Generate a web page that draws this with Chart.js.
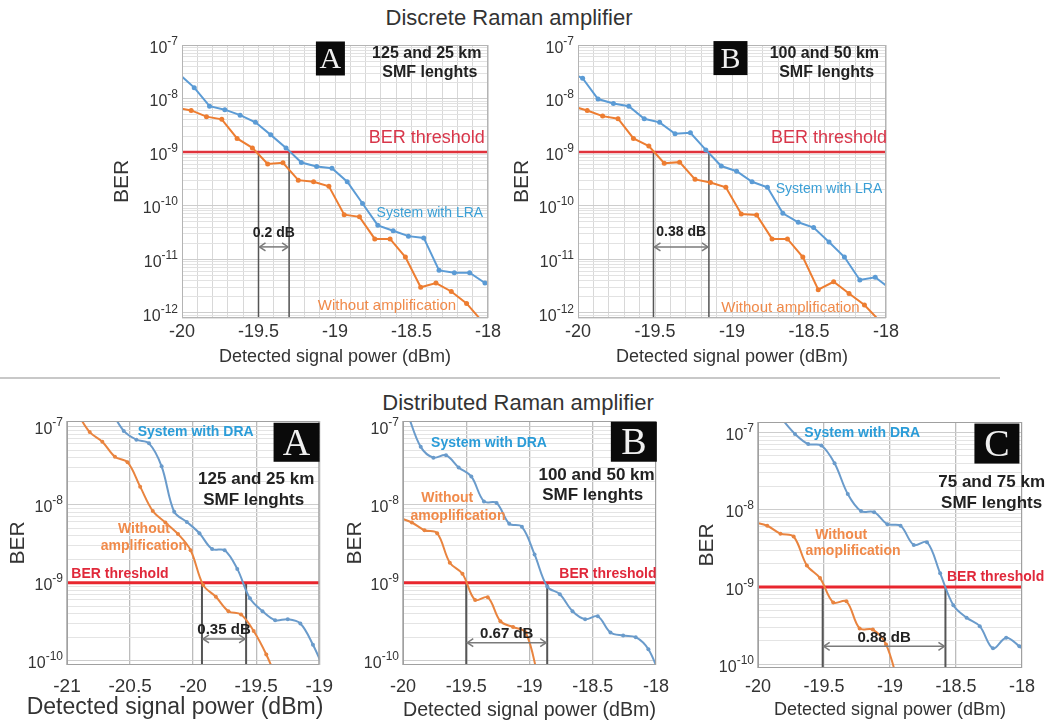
<!DOCTYPE html>
<html>
<head>
<meta charset="utf-8">
<script src="https://cdn.jsdelivr.net/npm/chart.js@4.4.1/dist/chart.umd.min.js"></script>
<style>
  body { margin: 0; background: #fff; }
  #fig { position: relative; width: 1048px; height: 724px; overflow: hidden;
         font-family: 'Liberation Sans', Arial, sans-serif; color: #333; }
  .section { position: absolute; left: 0; text-align: center; font-size: 22px; line-height: 26px; }
  #rule { position: absolute; left: 0; top: 377px; width: 1000px; height: 2px; background: #c8c8c8; }
  canvas { position: absolute; }
</style>
</head>
<body>
<div id="fig">
  <div class="section" style="top:5px; width:1018px;">Discrete Raman amplifier</div>
  <div id="rule"></div>
  <div class="section" style="top:390px; width:1036px;">Distributed Raman amplifier</div>
  <canvas id="dA"></canvas>
  <canvas id="dB"></canvas>
  <canvas id="rA"></canvas>
  <canvas id="rB"></canvas>
  <canvas id="rC"></canvas>
</div>
<script>
// ---- data ----
const berThreshold = 1e-9;

// Discrete Raman amplifier, A: 125 and 25 km
const dA_lraX = [-20.02,-19.92,-19.82,-19.72,-19.62,-19.52,-19.42,-19.32,-19.22,-19.12,-19.02,-18.92,-18.82,-18.72,-18.62,-18.52,-18.42,-18.32,-18.22,-18.12,-18.02];
const dA_lraBer = [2.9e-8,1.6e-8,7.2e-9,6.2e-9,4.9e-9,3.6e-9,2.1e-9,1.2e-9,6.4e-10,5.4e-10,5.0e-10,2.8e-10,1.1e-10,4.3e-11,3.4e-11,2.7e-11,2.5e-11,6.2e-12,5.6e-12,5.6e-12,3.6e-12];
const dA_noX = [-20.04,-19.94,-19.84,-19.74,-19.64,-19.54,-19.44,-19.34,-19.24,-19.14,-19.04,-18.94,-18.84,-18.74,-18.64,-18.54,-18.44,-18.34,-18.24,-18.14,-18.04];
const dA_noBer = [6.8e-9,6.0e-9,4.6e-9,4.1e-9,1.8e-9,1.2e-9,6.0e-10,6.3e-10,3.0e-10,2.8e-10,2.3e-10,6.8e-11,6.2e-11,2.4e-11,2.4e-11,1.1e-11,3.0e-12,3.6e-12,2.5e-12,1.5e-12,7e-13];
const dA_cross = [-19.5, -19.3];

// Discrete Raman amplifier, B: 100 and 50 km
const dB_lraX = [-20.07,-19.97,-19.87,-19.77,-19.67,-19.57,-19.47,-19.37,-19.27,-19.17,-19.07,-18.97,-18.87,-18.77,-18.67,-18.57,-18.47,-18.37,-18.27,-18.17,-18.07,-17.97];
const dB_lraBer = [3.2e-8,2.4e-8,9.8e-9,8.1e-9,7.2e-9,4.2e-9,3.6e-9,2.2e-9,2.3e-9,1.1e-9,5.5e-10,4.4e-10,2.8e-10,2.2e-10,7.2e-11,4.9e-11,3.9e-11,2.1e-11,1.1e-11,4.1e-12,4.6e-12,2.8e-12];
const dB_noX = [-20.04,-19.94,-19.84,-19.74,-19.64,-19.54,-19.44,-19.34,-19.24,-19.14,-19.04,-18.94,-18.84,-18.74,-18.64,-18.54,-18.44,-18.34,-18.24,-18.14,-18.04];
const dB_noBer = [7.2e-9,6.0e-9,4.7e-9,4.2e-9,1.8e-9,1.3e-9,6.2e-10,6.5e-10,3.1e-10,2.7e-10,2.2e-10,7.0e-11,6.7e-11,2.4e-11,2.4e-11,1.1e-11,2.7e-12,3.8e-12,2.3e-12,1.4e-12,7e-13];
const dB_cross = [-19.51, -19.15];

// Distributed Raman amplifier, A: 125 and 25 km
const rA_draX = [-20.65,-20.55,-20.45,-20.35,-20.25,-20.15,-20.05,-19.95,-19.85,-19.75,-19.65,-19.55,-19.45,-19.35,-19.25,-19.15,-19.05,-18.95];
const rA_draBer = [1.6e-7,8.8e-8,6.8e-8,6.1e-8,3.1e-8,8.1e-9,6.0e-9,4.3e-9,2.7e-9,2.6e-9,1.5e-9,6.3e-10,4.3e-10,3.3e-10,3.4e-10,3.0e-10,1.6e-10,7e-11];
const rA_noX = [-20.92,-20.82,-20.72,-20.62,-20.52,-20.42,-20.32,-20.22,-20.12,-20.02,-19.92,-19.82,-19.72,-19.62,-19.52,-19.42,-19.32];
const rA_noBer = [1.5e-7,8.5e-8,6.4e-8,4.1e-8,3.5e-8,1.7e-8,8.3e-9,5.9e-9,4.2e-9,2.6e-9,9.3e-10,6.6e-10,4.3e-10,3.9e-10,2.4e-10,1.2e-10,5e-11];
const rA_cross = [-19.93, -19.58];

// Distributed Raman amplifier, B: 100 and 50 km
const rB_draX = [-19.96,-19.86,-19.76,-19.66,-19.56,-19.46,-19.36,-19.26,-19.16,-19.06,-18.96,-18.86,-18.76,-18.66,-18.56,-18.46,-18.36,-18.26,-18.16,-18.06,-17.96];
const rB_draBer = [1.4e-7,5.5e-8,4.0e-8,4.3e-8,3.0e-8,2.3e-8,1.1e-8,1.05e-8,5.7e-9,5.2e-9,2.3e-9,8.9e-10,7.1e-10,4.3e-10,3.4e-10,3.7e-10,2.3e-10,2.1e-10,2.0e-10,1.4e-10,6e-11];
const rB_noX = [-20.03,-19.93,-19.83,-19.73,-19.63,-19.53,-19.43,-19.33,-19.23,-19.13,-19.03,-18.93];
const rB_noBer = [6.8e-9,5.9e-9,4.7e-9,4.3e-9,1.8e-9,1.3e-9,6.0e-10,6.5e-10,3.2e-10,2.7e-10,2.3e-10,6e-11];
const rB_cross = [-19.50, -18.86];

// Distributed Raman amplifier, C: 75 and 75 km
const rC_draX = [-19.82,-19.72,-19.62,-19.52,-19.42,-19.32,-19.22,-19.12,-19.02,-18.92,-18.82,-18.72,-18.62,-18.52,-18.42,-18.32,-18.22,-18.12,-18.02,-17.92];
const rC_draBer = [1.5e-7,9.6e-8,7.1e-8,6.8e-8,4.0e-8,1.6e-8,9.6e-9,9.3e-9,6.5e-9,6.2e-9,3.5e-9,3.8e-9,1.5e-9,5.8e-10,4.0e-10,3.1e-10,1.6e-10,2.2e-10,1.7e-10,1.2e-10];
const rC_noX = [-20.03,-19.93,-19.83,-19.73,-19.63,-19.53,-19.43,-19.33,-19.23,-19.13,-19.03,-18.93];
const rC_noBer = [6.9e-9,6.2e-9,4.9e-9,4.5e-9,1.9e-9,1.3e-9,6.3e-10,6.5e-10,2.9e-10,2.8e-10,1.8e-10,5e-11];
const rC_cross = [-19.51, -18.58];

const gapLabels = ['0.2 dB', '0.38 dB', '0.35 dB', '0.67 dB', '0.88 dB'];
const xTitle = 'Detected signal power (dBm)';
const yTitle = 'BER';

// ---- styling ----
const FONT = "'Liberation Sans', Arial, sans-serif";
const SERIF = "'Liberation Serif', 'DejaVu Serif', serif";
const BLUE_T = '#5b9bd5', ORANGE_T = '#ed7d31';
const BLUE_B = '#6a9bcb', ORANGE_B = '#e9843f';
const TXT_BLUE = '#3a9fd6', TXT_ORANGE = '#f08a4a', TXT_DARK = '#222';

function logGrid(min, max) {
  const out = [];
  for (let e = Math.floor(Math.log10(min)); e <= Math.ceil(Math.log10(max)); e++) {
    for (let k = 1; k <= 9; k++) {
      const v = k * Math.pow(10, e);
      if (v >= min * 0.999 && v <= max * 1.001) out.push({ value: v, decade: k === 1 });
    }
  }
  return out;
}
function linGrid(min, max, step) {
  const n = Math.round((max - min) / step), out = [];
  for (let i = 0; i <= n; i++) out.push({ value: +(min + i * step).toFixed(2) });
  return out;
}

const panels = [
  { id: 'dA', L: 182, T: 45, R: 488, B: 318, yw: 72, padTop: 12, padRight: 20, xh: 52,
    xMin: -20, xMax: -18, xStep: 0.1, yMin: 8e-13, yMax: 1e-7,
    tickFont: 18, tickPad: 3, titleFont: 18, yFont: 16, berFont: 21, top: true,
    series: [[dA_lraX, dA_lraBer, BLUE_T], [dA_noX, dA_noBer, ORANGE_T]], cross: dA_cross,
    gap: { t: gapLabels[0], ly: 3.1e-11, ay: 1.7e-11, f: 'bold 14px' },
    letter: { t: 'A', x: -19.03, y: 5.6e-8, w: 29, h: 34, size: 30 },
    notes: [
      { t: '125 and 25 km', x: -18.40, y: 7.0e-8, f: 'bold 16px', c: TXT_DARK },
      { t: 'SMF lenghts', x: -18.38, y: 3.0e-8, f: 'bold 16px', c: TXT_DARK },
      { t: 'BER threshold', x: -18.40, y: 1.8e-9, f: '18px', c: '#d8364a' },
      { t: 'System with LRA', x: -18.38, y: 7.4e-11, f: '14px', c: TXT_BLUE },
      { t: 'Without amplification', x: -18.66, y: 1.35e-12, f: '15px', c: TXT_ORANGE }
    ] },
  { id: 'dB', L: 578, T: 45, R: 886, B: 318, yw: 68, padTop: 12, padRight: 20, xh: 52,
    xMin: -20, xMax: -18, xStep: 0.1, yMin: 8e-13, yMax: 1e-7,
    tickFont: 18, tickPad: 3, titleFont: 18, yFont: 16, berFont: 21, top: true,
    series: [[dB_lraX, dB_lraBer, BLUE_T], [dB_noX, dB_noBer, ORANGE_T]], cross: dB_cross,
    gap: { t: gapLabels[1], ly: 3.2e-11, ay: 1.7e-11, f: 'bold 14px' },
    letter: { t: 'B', x: -19.01, y: 5.7e-8, w: 34, h: 34, size: 30 },
    notes: [
      { t: '100 and 50 km', x: -18.40, y: 7.0e-8, f: 'bold 16px', c: TXT_DARK },
      { t: 'SMF lenghts', x: -18.385, y: 3.0e-8, f: 'bold 16px', c: TXT_DARK },
      { t: 'BER threshold', x: -18.37, y: 1.8e-9, f: '18px', c: '#d8364a' },
      { t: 'System with LRA', x: -18.37, y: 2.0e-10, f: '14px', c: TXT_BLUE },
      { t: 'Without amplification', x: -18.62, y: 1.23e-12, f: '15px', c: TXT_ORANGE }
    ] },
  { id: 'rA', L: 67, T: 421, R: 328, B: 665, yw: 61, padTop: 12, padRight: 15, xh: 59,
    xMin: -21, xMax: -19, xStep: 0.5, yMin: 8.8e-11, yMax: 1.18e-7,
    tickFont: 19, tickPad: 10, titleFont: 23, yFont: 16, berFont: 21, top: false,
    ownTitle: { cx: 175, cy: 708 },
    series: [[rA_draX, rA_draBer, BLUE_B], [rA_noX, rA_noBer, ORANGE_B]], cross: rA_cross,
    gap: { t: gapLabels[2], ly: 2.5e-10, ay: 1.9e-10, f: 'bold 15px' },
    letter: { t: 'A', x: -19.18, y: 6.3e-8, w: 46, h: 39, size: 38 },
    notes: [
      { t: 'System with DRA', x: -19.98, y: 8.6e-8, f: 'bold 14px', c: '#2b9cd8' },
      { t: '125 and 25 km', x: -19.50, y: 2.1e-8, f: 'bold 17px', c: TXT_DARK },
      { t: 'SMF lenghts', x: -19.52, y: 1.15e-8, f: 'bold 17px', c: TXT_DARK },
      { t: 'Without', x: -20.39, y: 4.8e-9, f: 'bold 14px', c: TXT_ORANGE },
      { t: 'amplification', x: -20.39, y: 2.95e-9, f: 'bold 14px', c: TXT_ORANGE },
      { t: 'BER threshold', x: -20.58, y: 1.3e-9, f: 'bold 14px', c: '#e0283a' }
    ] },
  { id: 'rB', L: 403, T: 421, R: 665, B: 665, yw: 60, padTop: 12, padRight: 15, xh: 59,
    xMin: -20, xMax: -18, xStep: 0.5, yMin: 8.8e-11, yMax: 1.18e-7,
    tickFont: 18, tickPad: 11, titleFont: 20, yFont: 16, berFont: 21, top: false,
    series: [[rB_draX, rB_draBer, BLUE_B], [rB_noX, rB_noBer, ORANGE_B]], cross: rB_cross,
    gap: { t: gapLabels[3], ly: 2.2e-10, ay: 1.7e-10, f: 'bold 15px' },
    letter: { t: 'B', x: -18.175, y: 6.4e-8, w: 46, h: 40, size: 38 },
    notes: [
      { t: 'System with DRA', x: -19.32, y: 6.1e-8, f: 'bold 14px', c: '#2b9cd8' },
      { t: '100 and 50 km', x: -18.47, y: 2.4e-8, f: 'bold 17px', c: TXT_DARK },
      { t: 'SMF lenghts', x: -18.50, y: 1.3e-8, f: 'bold 17px', c: TXT_DARK },
      { t: 'Without', x: -19.65, y: 1.2e-8, f: 'bold 14px', c: TXT_ORANGE },
      { t: 'amoplification', x: -19.565, y: 7.2e-9, f: 'bold 14px', c: TXT_ORANGE },
      { t: 'BER threshold', x: -18.38, y: 1.3e-9, f: 'bold 14px', c: '#e0283a' }
    ] },
  { id: 'rC', L: 758, T: 422, R: 1022, B: 668, yw: 63, padTop: 12, padRight: 26, xh: 55,
    xMin: -20, xMax: -18, xStep: 0.5, yMin: 8.9e-11, yMax: 1.37e-7,
    tickFont: 18, tickPad: 8, titleFont: 18, yFont: 16, berFont: 21, top: false,
    series: [[rC_draX, rC_draBer, BLUE_B], [rC_noX, rC_noBer, ORANGE_B]], cross: rC_cross,
    gap: { t: gapLabels[4], ly: 2.2e-10, ay: 1.7e-10, f: 'bold 15px' },
    letter: { t: 'C', x: -18.19, y: 7.2e-8, w: 45, h: 40, size: 38 },
    notes: [
      { t: 'System with DRA', x: -19.21, y: 9.8e-8, f: 'bold 14px', c: '#2b9cd8' },
      { t: '75 and 75 km', x: -18.23, y: 2.3e-8, f: 'bold 17px', c: TXT_DARK },
      { t: 'SMF lenghts', x: -18.23, y: 1.2e-8, f: 'bold 17px', c: TXT_DARK },
      { t: 'Without', x: -19.37, y: 4.7e-9, f: 'bold 14px', c: TXT_ORANGE },
      { t: 'amoplification', x: -19.28, y: 2.9e-9, f: 'bold 14px', c: TXT_ORANGE },
      { t: 'BER threshold', x: -18.20, y: 1.35e-9, f: 'bold 14px', c: '#e0283a' }
    ] }
];

function arrowHead(ctx, x, y, dir) {
  ctx.beginPath();
  ctx.moveTo(x + dir * 6, y - 4);
  ctx.lineTo(x, y);
  ctx.lineTo(x + dir * 6, y + 4);
  ctx.stroke();
}

function notesPlugin(p) {
  return {
    id: 'notes_' + p.id,
    afterDraw(chart) {
      const { ctx, chartArea: a } = chart;
      const x = chart.scales.x, y = chart.scales.y;
      ctx.save();
      // plot frame
      ctx.strokeStyle = p.top ? '#b4b4b4' : '#a0a0a0';
      ctx.lineWidth = 1;
      ctx.strokeRect(a.left + 0.5, a.top + 0.5, a.right - a.left - 1, a.bottom - a.top - 1);

      // decade labels on the log axis: 10 with a raised exponent
      const base = p.yFont, exp = Math.round(p.yFont * 0.75);
      ctx.fillStyle = '#333';
      ctx.textAlign = 'left';
      ctx.textBaseline = 'alphabetic';
      y.ticks.forEach(t => {
        if (!t.decade) return;
        const py = y.getPixelForValue(t.value);
        const e = String(Math.round(Math.log10(t.value)));
        ctx.font = base + 'px ' + FONT;
        const wb = ctx.measureText('10').width;
        ctx.font = exp + 'px ' + FONT;
        const we = ctx.measureText(e).width;
        const right = a.left - 4;
        const bl = py + 2 + base * 0.36;
        ctx.font = base + 'px ' + FONT;
        ctx.fillText('10', right - we - wb, bl);
        ctx.font = exp + 'px ' + FONT;
        ctx.fillText(e, right - we, bl - base * 0.5);
      });

      // x axis title drawn by hand where it is wider than the plot
      if (p.ownTitle) {
        ctx.font = p.titleFont + 'px ' + FONT;
        ctx.textAlign = 'center';
        ctx.textBaseline = 'middle';
        ctx.fillText(xTitle, p.ownTitle.cx - (p.L - p.yw), p.ownTitle.cy - (p.T - p.padTop));
      }

      // gap arrow between the two crossing markers
      const x1 = x.getPixelForValue(p.cross[0]), x2 = x.getPixelForValue(p.cross[1]);
      const ay = y.getPixelForValue(p.gap.ay);
      ctx.strokeStyle = '#7a7a7a';
      ctx.lineWidth = 1.5;
      ctx.beginPath();
      ctx.moveTo(x1 + 1, ay);
      ctx.lineTo(x2 - 1, ay);
      ctx.stroke();
      arrowHead(ctx, x1 + 1, ay, 1);
      arrowHead(ctx, x2 - 1, ay, -1);
      ctx.textAlign = 'center';
      ctx.textBaseline = 'middle';
      ctx.fillStyle = '#222';
      ctx.font = p.gap.f + ' ' + FONT;
      ctx.fillText(p.gap.t, (x1 + x2) / 2, y.getPixelForValue(p.gap.ly));

      // text notes
      p.notes.forEach(n => {
        ctx.font = n.f + ' ' + FONT;
        ctx.fillStyle = n.c;
        ctx.fillText(n.t, x.getPixelForValue(n.x), y.getPixelForValue(n.y));
      });

      // panel letter box
      const L = p.letter;
      const cx = x.getPixelForValue(L.x), cy = y.getPixelForValue(L.y);
      ctx.fillStyle = '#0a0a0a';
      ctx.fillRect(cx - L.w / 2, cy - L.h / 2, L.w, L.h);
      ctx.fillStyle = '#f0f0f0';
      ctx.font = L.size + 'px ' + SERIF;
      ctx.textBaseline = 'alphabetic';
      ctx.fillText(L.t, cx, cy + L.size * 0.33);
      ctx.restore();
    }
  };
}

function makeChart(p) {
  const cv = document.getElementById(p.id);
  const W = p.yw + (p.R - p.L) + p.padRight;
  const H = p.padTop + (p.B - p.T) + p.xh;
  cv.width = W; cv.height = H;
  cv.style.width = W + 'px'; cv.style.height = H + 'px';
  cv.style.left = (p.L - p.yw) + 'px';
  cv.style.top = (p.T - p.padTop) + 'px';

  const datasets = p.series.map(([xs, ys, color]) => ({
    data: xs.map((v, i) => ({ x: v, y: ys[i] })),
    borderColor: color,
    backgroundColor: color,
    pointBackgroundColor: color,
    borderWidth: 2,
    pointRadius: p.top ? 2.5 : 2,
    pointBorderWidth: 0,
    tension: p.top ? 0 : 0.35,
    clip: 0
  }));
  datasets.push({
    data: [{ x: p.xMin, y: berThreshold }, { x: p.xMax, y: berThreshold }],
    borderColor: p.top ? '#e0323c' : '#e8262e',
    borderWidth: p.top ? 2.5 : 3,
    pointRadius: 0, clip: 0
  });
  p.cross.forEach(c => datasets.push({
    data: [{ x: c, y: berThreshold }, { x: c, y: p.yMin * 0.5 }],
    borderColor: '#555', borderWidth: p.top ? 1.5 : 2, pointRadius: 0, clip: 0
  }));

  new Chart(cv, {
    type: 'line',
    data: { datasets },
    options: {
      responsive: false,
      animation: false,
      events: [],
      layout: { padding: { top: p.padTop, right: p.padRight, left: 0, bottom: 0 } },
      plugins: { legend: { display: false }, tooltip: { enabled: false } },
      scales: {
        x: {
          type: 'linear', min: p.xMin, max: p.xMax,
          afterFit: s => { s.height = p.xh; },
          afterBuildTicks: s => { s.ticks = linGrid(p.xMin, p.xMax, p.xStep); },
          border: { display: false },
          grid: { drawTicks: false, lineWidth: p.top ? 1 : 1.3, color: p.top ? '#d8d8d8' : '#bcbcbc' },
          ticks: {
            autoSkip: false, maxRotation: 0, padding: p.tickPad, color: '#333',
            font: { family: FONT, size: p.tickFont },
            callback: v => Math.abs(v * 2 - Math.round(v * 2)) < 1e-6 ? String(v) : ''
          },
          title: { display: !p.ownTitle, text: xTitle, color: '#333', font: { family: FONT, size: p.titleFont },
                   padding: { top: 0, bottom: 2 } }
        },
        y: {
          type: 'logarithmic', min: p.yMin, max: p.yMax,
          afterFit: s => { s.width = p.yw; },
          afterBuildTicks: s => { s.ticks = logGrid(p.yMin, p.yMax); },
          border: { display: false },
          grid: { drawTicks: false, lineWidth: 1,
                  color: c => (c.tick && c.tick.decade) ? '#cdcdcd' : (p.top ? '#e2e2e2' : '#e4e4e4') },
          ticks: { display: false, autoSkip: false },
          title: { display: true, text: yTitle, color: '#333', font: { family: FONT, size: p.berFont },
                   padding: { top: 0, bottom: 0 } }
        }
      }
    },
    plugins: [notesPlugin(p)]
  });
}

panels.forEach(makeChart);
</script>
</body>
</html>
